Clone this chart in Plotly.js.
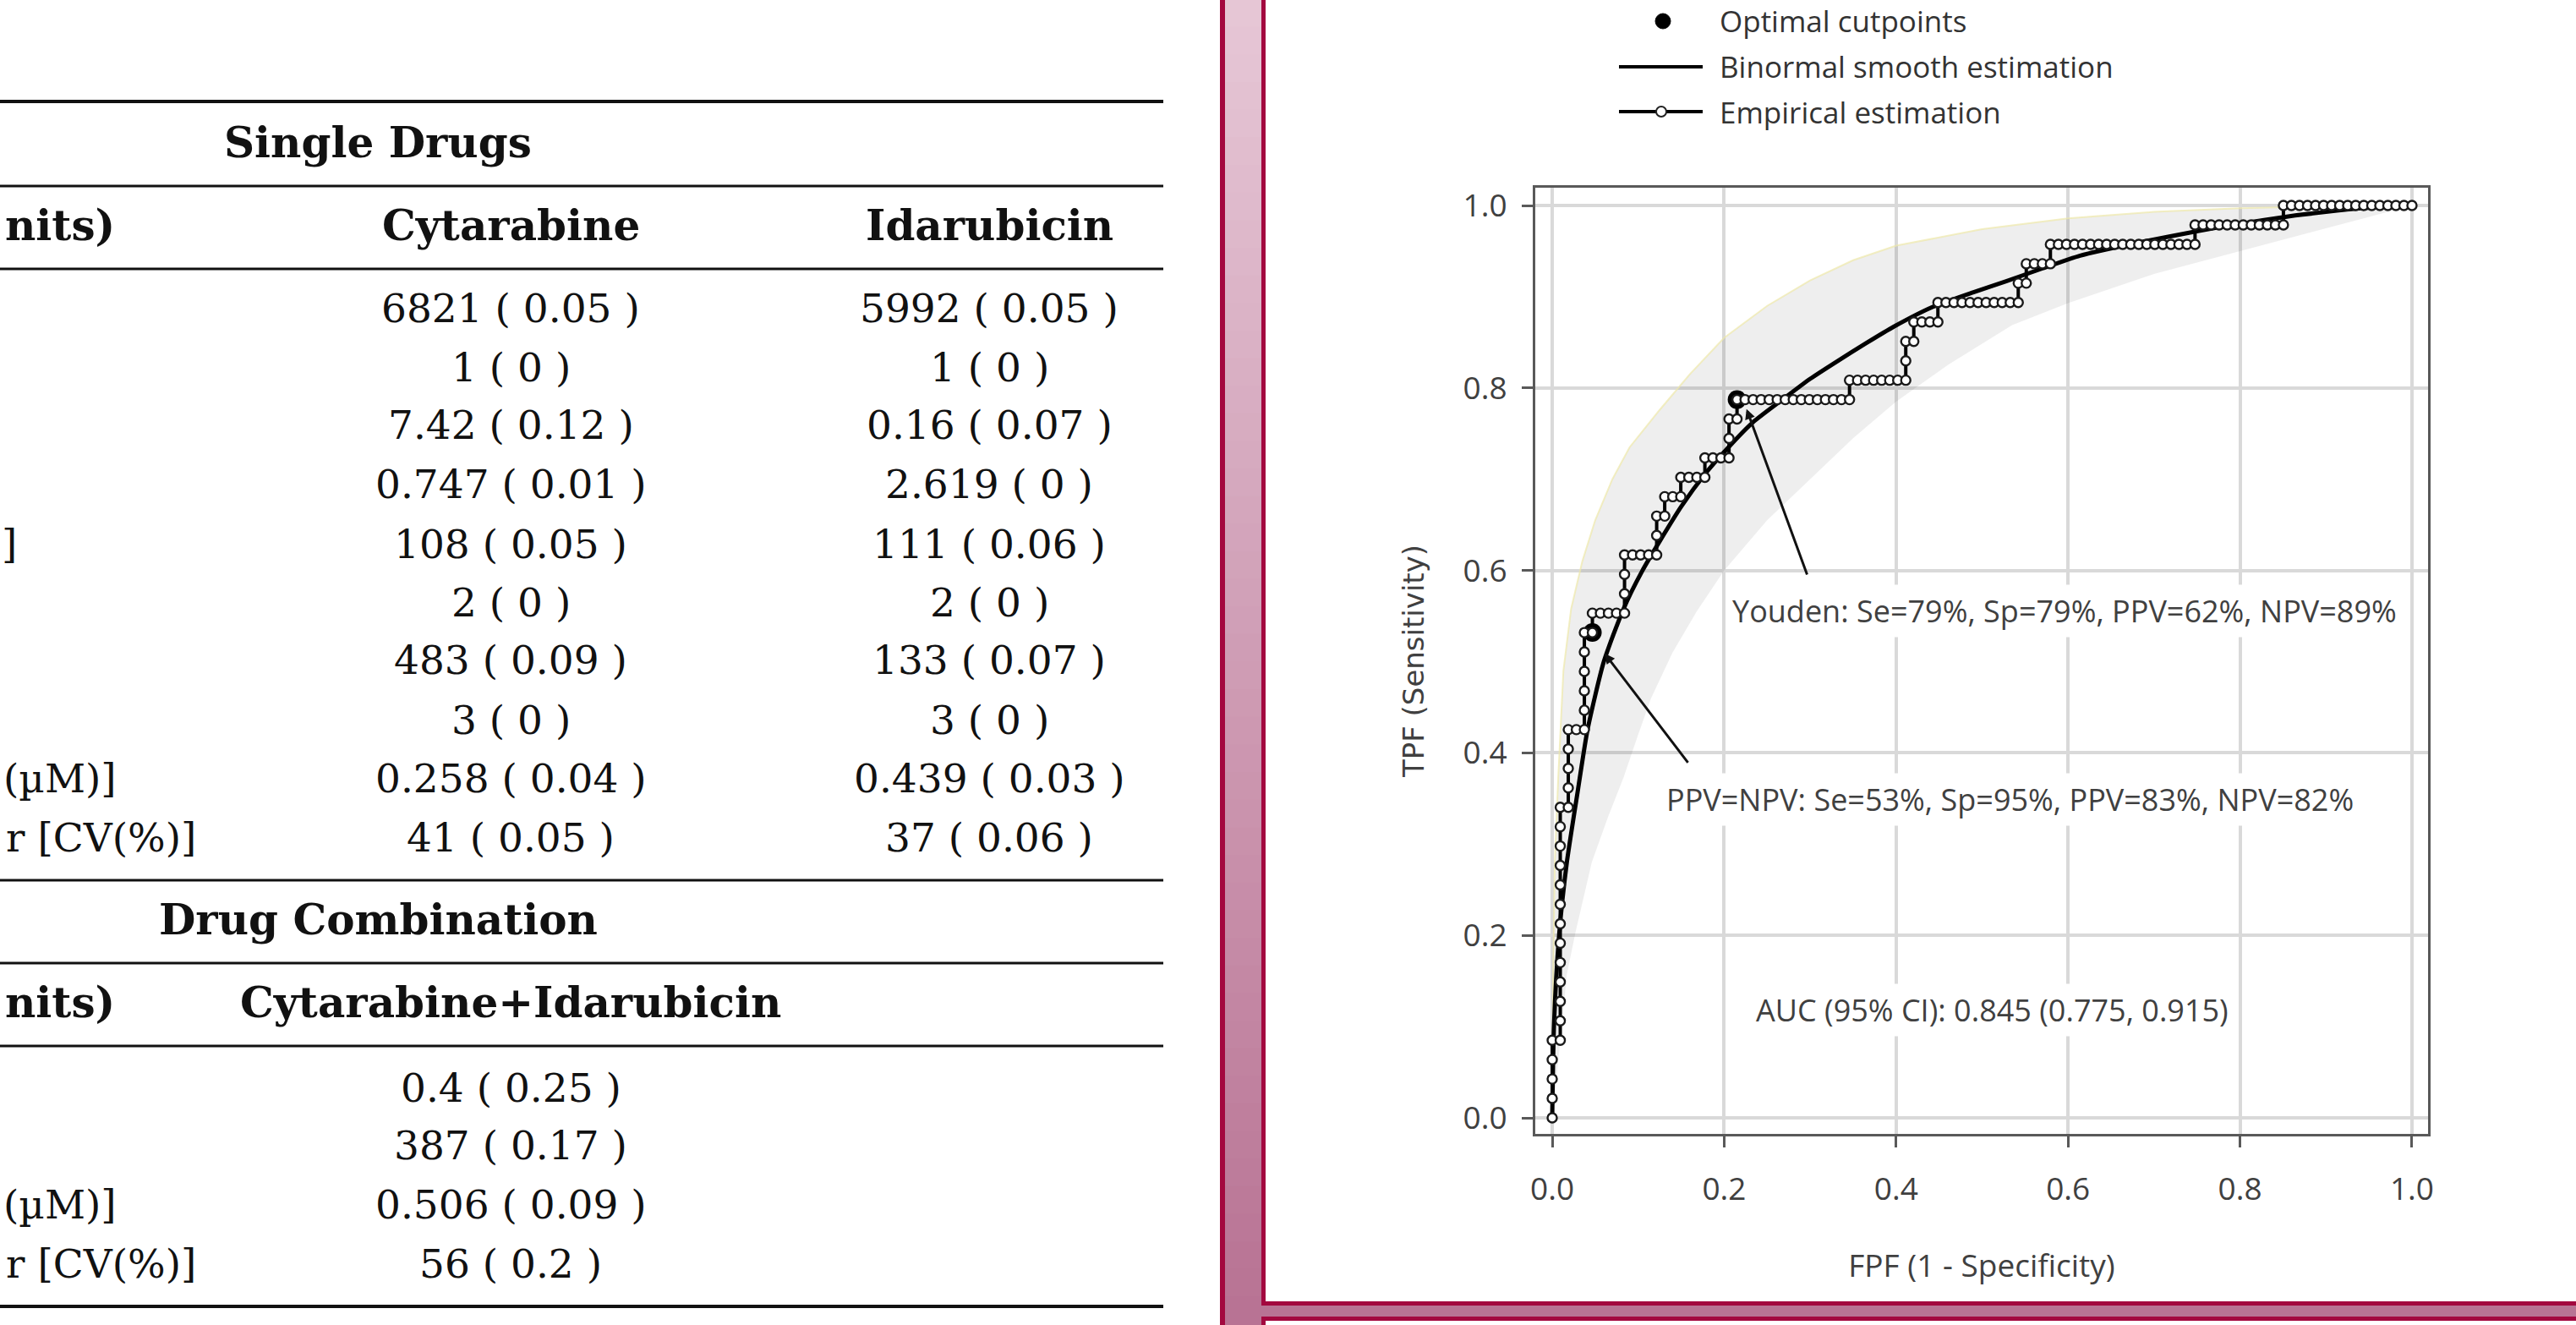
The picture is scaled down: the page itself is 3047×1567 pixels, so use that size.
<!DOCTYPE html>
<html>
<head>
<meta charset="utf-8">
<script src="https://cdn.plot.ly/plotly-3.0.1.min.js"></script>
<style>
html,body{margin:0;padding:0;background:#fff;overflow:hidden;}
#chart{width:3047px;height:1567px;}
</style>
</head>
<body>
<div id="chart"></div>
<script>
// ---------------- DATA ----------------
// Table (left side; the picture is cropped, so only the visible ends of the row labels are kept)
const singleTitle = 'Single Drugs';
const comboTitle = 'Drug Combination';
const paramHeader = 'nits)';
const singleColumns = ['Cytarabine', 'Idarubicin'];
const comboColumns = ['Cytarabine+Idarubicin'];
const cytarabineValues = ['6821 ( 0.05 )', '1 ( 0 )', '7.42 ( 0.12 )', '0.747 ( 0.01 )', '108 ( 0.05 )',
  '2 ( 0 )', '483 ( 0.09 )', '3 ( 0 )', '0.258 ( 0.04 )', '41 ( 0.05 )'];
const idarubicinValues = ['5992 ( 0.05 )', '1 ( 0 )', '0.16 ( 0.07 )', '2.619 ( 0 )', '111 ( 0.06 )',
  '2 ( 0 )', '133 ( 0.07 )', '3 ( 0 )', '0.439 ( 0.03 )', '37 ( 0.06 )'];
const comboValues = ['0.4 ( 0.25 )', '387 ( 0.17 )', '0.506 ( 0.09 )', '56 ( 0.2 )'];
const singleLabelRows = [4, 8, 9];
const singleLabels = [']', '(µM)]', 'r [CV(%)]'];
const comboLabelRows = [2, 3];
const comboLabels = ['(µM)]', 'r [CV(%)]'];

// ROC chart
const nNegatives = 107;
const nPositives = 47;
// empirical ROC: false-positive and true-positive counts at each cutpoint
const empiricalFP = [
  0,0,0,0,0,
  1,1,1,1,1,1,1,1,1,1,1,1,1,
  2,2,2,2,2,
  3,4,4,4,4,4,4,
  5,5,6,7,8,9,
  9,9,9,10,11,12,13,
  13,13,14,14,15,16,
  16,17,18,19,
  19,20,21,22,
  22,22,23,23,
  24,25,26,27,28,29,30,31,32,33,34,35,36,37,
  37,38,39,40,41,42,43,44,
  44,44,45,
  45,46,47,48,
  48,49,50,51,52,53,54,55,56,57,58,
  58,59,
  59,60,61,62,
  62,63,64,65,66,67,68,69,70,71,72,73,74,75,76,77,78,79,80,
  80,81,82,83,84,85,86,87,88,89,90,91,
  91,92,93,94,95,96,97,98,99,100,101,102,103,104,105,106,107];
const empiricalTP = [
  0,1,2,3,4,
  4,5,6,7,8,9,10,11,12,13,14,15,16,
  16,17,18,19,20,
  20,20,21,22,23,24,25,
  25,26,26,26,26,26,
  27,28,29,29,29,29,29,
  30,31,31,32,32,32,
  33,33,33,33,
  34,34,34,34,
  35,36,36,37,
  37,37,37,37,37,37,37,37,37,37,37,37,37,37,
  38,38,38,38,38,38,38,38,
  39,40,40,
  41,41,41,41,
  42,42,42,42,42,42,42,42,42,42,42,
  43,43,
  44,44,44,44,
  45,45,45,45,45,45,45,45,45,45,45,45,45,45,45,45,45,45,45,
  46,46,46,46,46,46,46,46,46,46,46,46,
  47,47,47,47,47,47,47,47,47,47,47,47,47,47,47,47,47];

// binormal smooth estimate
const smoothFPF = [0, 0.002, 0.008, 0.017, 0.03, 0.041, 0.06, 0.083, 0.105, 0.125, 0.15, 0.178, 0.205, 0.233,
  0.266, 0.3, 0.331, 0.365, 0.397, 0.443, 0.49, 0.528, 0.57, 0.614, 0.68, 0.751, 0.8, 0.856, 0.9, 0.955, 1.0];
const smoothTPF = [0, 0.1, 0.2, 0.28, 0.36, 0.425, 0.5, 0.558, 0.6, 0.632, 0.67, 0.706, 0.735, 0.762,
  0.786, 0.81, 0.829, 0.849, 0.867, 0.889, 0.905, 0.917, 0.931, 0.945, 0.959, 0.972, 0.98, 0.988, 0.993, 0.998, 1.0];

// 95% confidence band of the smooth curve
const bandUpperFPF = [0, 0.001, 0.003, 0.007, 0.013, 0.022, 0.035, 0.05, 0.07, 0.09, 0.125, 0.16, 0.2, 0.25,
  0.3, 0.35, 0.4, 0.5, 0.6, 0.7, 0.8, 0.9, 1.0];
const bandUpperTPF = [0, 0.15, 0.28, 0.373, 0.49, 0.558, 0.61, 0.655, 0.70, 0.735, 0.776, 0.815, 0.855, 0.89,
  0.918, 0.94, 0.956, 0.974, 0.986, 0.993, 0.997, 0.999, 1.0];
const bandLowerFPF = [0, 0.01, 0.017, 0.027, 0.046, 0.065, 0.083, 0.1, 0.115, 0.14, 0.168, 0.2, 0.25, 0.3,
  0.35, 0.4, 0.46, 0.535, 0.6, 0.7, 0.8, 0.9, 0.965, 1.0];
const bandLowerTPF = [0, 0.09, 0.157, 0.203, 0.28, 0.33, 0.373, 0.42, 0.46, 0.51, 0.555, 0.6, 0.655, 0.70,
  0.745, 0.785, 0.825, 0.869, 0.893, 0.925, 0.95, 0.975, 0.991, 1.0];

// optimal cutpoints (counts)
const optimalFP = [23, 5];
const optimalTP = [37, 25];
const cutpointLabels = ['Youden: Se=79%, Sp=79%, PPV=62%, NPV=89%', 'PPV=NPV: Se=53%, Sp=95%, PPV=83%, NPV=82%'];
const aucLabel = 'AUC (95% CI): 0.845 (0.775, 0.915)';

const tickValues = [0, 0.2, 0.4, 0.6, 0.8, 1.0];
const tickLabels = ['0.0', '0.2', '0.4', '0.6', '0.8', '1.0'];
const legendLabels = ['Optimal cutpoints', 'Binormal smooth estimation', 'Empirical estimation'];
const xTitle = 'FPF (1 - Specificity)';
const yTitle = 'TPF (Sensitivity)';

// ---------------- LAYOUT HELPERS ----------------
const W = 3047, H = 1567;
const px = x => x / W;
const py = y => 1 - y / H;

const empX = empiricalFP.map(v => v / nNegatives);
const empY = empiricalTP.map(v => v / nPositives);
const optX = optimalFP.map(v => v / nNegatives);
const optY = optimalTP.map(v => v / nPositives);

const shapes = [];
const annotations = [];

// pink gradient frame background
const nBands = 48;
const cTop = [230, 199, 214], cBot = [184, 114, 147];
for (let i = 0; i < nBands; i++) {
  const t = (i + 0.5) / nBands;
  const c = cTop.map((v, k) => Math.round(v + (cBot[k] - v) * t));
  shapes.push({type: 'rect', xref: 'paper', yref: 'paper', layer: 'below',
    x0: px(1449), x1: px(3060), y0: py(i * H / nBands - 1), y1: py((i + 1) * H / nBands + 1),
    fillcolor: `rgb(${c[0]},${c[1]},${c[2]})`, line: {width: 0}});
}
const crimson = '#a3083f';
shapes.push({type: 'rect', xref: 'paper', yref: 'paper', layer: 'below',
  x0: px(1443), x1: px(1449), y0: py(-5), y1: py(H + 5), fillcolor: crimson, line: {width: 0}});
// white panels with crimson borders
shapes.push({type: 'rect', xref: 'paper', yref: 'paper', layer: 'below',
  x0: px(1494.5), x1: px(3070), y0: py(1541.5), y1: py(-30), fillcolor: '#ffffff', line: {color: crimson, width: 5}});
shapes.push({type: 'rect', xref: 'paper', yref: 'paper', layer: 'below',
  x0: px(1494.5), x1: px(3070), y0: py(1600), y1: py(1559.5), fillcolor: '#ffffff', line: {color: crimson, width: 5}});

// table rules
const ruleY = [120, 220, 318, 1041, 1139, 1237, 1545];
const ruleW = [4, 3, 3, 3, 3, 3, 4];
ruleY.forEach((y, i) => shapes.push({type: 'line', xref: 'paper', yref: 'paper', layer: 'below',
  x0: 0, x1: px(1376), y0: py(y), y1: py(y), line: {color: '#111', width: ruleW[i]}}));

// table text
const serif = 'DejaVu Serif, Liberation Serif, serif';
const boldFont = {family: serif, size: 50, color: '#111'};
const regFont = {family: serif, size: 47, color: '#111'};
function tableText(text, x, y, font, anchor) {
  annotations.push({xref: 'paper', yref: 'paper', x: px(x), y: py(y), text: text,
    showarrow: false, xanchor: anchor || 'center', yanchor: 'middle', font: font});
}
tableText('<b>' + singleTitle + '</b>', 447, 168, boldFont);
tableText('<b>' + paramHeader + '</b>', 138, 266, boldFont, 'right');
const colX = [604, 1170];
tableText('<b>' + singleColumns[0] + '</b>', colX[0], 266, boldFont);
tableText('<b>' + singleColumns[1] + '</b>', colX[1], 266, boldFont);
const rowY1 = [364, 434, 503, 573, 643, 712, 781, 851, 920, 990];
cytarabineValues.forEach((v, i) => tableText(v, colX[0], rowY1[i], regFont));
idarubicinValues.forEach((v, i) => tableText(v, colX[1], rowY1[i], regFont));
const singleLabelRight = [22, 140, 234];
singleLabels.forEach((t, i) => tableText(t, singleLabelRight[i], rowY1[singleLabelRows[i]], regFont, 'right'));
tableText('<b>' + comboTitle + '</b>', 447, 1087, boldFont);
tableText('<b>' + paramHeader + '</b>', 138, 1185, boldFont, 'right');
tableText('<b>' + comboColumns[0] + '</b>', colX[0], 1185, boldFont);
const rowY2 = [1286, 1354, 1424, 1494];
comboValues.forEach((v, i) => tableText(v, colX[0], rowY2[i], regFont));
const comboLabelRight = [140, 234];
comboLabels.forEach((t, i) => tableText(t, comboLabelRight[i], rowY2[comboLabelRows[i]], regFont, 'right'));

// manual legend (long line samples like the original)
const sans = 'Open Sans, Noto Sans, sans-serif';
const legY = [25, 79, 132];
shapes.push({type: 'circle', xref: 'paper', yref: 'paper', x0: px(1958), x1: px(1976), y0: py(legY[0] + 9), y1: py(legY[0] - 9),
  fillcolor: '#000', line: {color: '#000', width: 1}});
shapes.push({type: 'line', xref: 'paper', yref: 'paper', x0: px(1915), x1: px(2014), y0: py(legY[1]), y1: py(legY[1]),
  line: {color: '#000', width: 4}});
shapes.push({type: 'line', xref: 'paper', yref: 'paper', x0: px(1915), x1: px(2014), y0: py(legY[2]), y1: py(legY[2]),
  line: {color: '#000', width: 4}});
shapes.push({type: 'circle', xref: 'paper', yref: 'paper', x0: px(1959), x1: px(1971), y0: py(legY[2] + 6), y1: py(legY[2] - 6),
  fillcolor: '#fff', line: {color: '#222', width: 2}});
legendLabels.forEach((t, i) => annotations.push({xref: 'paper', yref: 'paper', x: px(2032), y: py(legY[i]),
  text: t, showarrow: false, xanchor: 'left', yanchor: 'middle', font: {family: sans, size: 35, color: '#333'}}));

// chart annotations
const noteFont = {family: sans, size: 36, color: '#404040'};
annotations.push({xref: 'x', yref: 'y', x: 0.2025, y: 0.556, text: cutpointLabels[0], showarrow: false,
  xanchor: 'left', yanchor: 'middle', font: noteFont, bgcolor: '#ffffff', borderpad: 6});
annotations.push({xref: 'x', yref: 'y', x: 0.1258, y: 0.3494, text: cutpointLabels[1], showarrow: false,
  xanchor: 'left', yanchor: 'middle', font: noteFont, bgcolor: '#ffffff', borderpad: 6});
annotations.push({xref: 'x', yref: 'y', x: 0.230, y: 0.1186, text: aucLabel, showarrow: false,
  xanchor: 'left', yanchor: 'middle', font: noteFont, bgcolor: '#ffffff', borderpad: 6});
// arrows from labels to the optimal cutpoints
annotations.push({xref: 'x', yref: 'y', axref: 'x', ayref: 'y', x: 0.226, y: 0.777, ax: 0.297, ay: 0.594,
  text: '', showarrow: true, arrowhead: 2, arrowsize: 0.8, arrowwidth: 3, arrowcolor: '#111', standoff: 0, startstandoff: 0});
annotations.push({xref: 'x', yref: 'y', axref: 'x', ayref: 'y', x: 0.061, y: 0.509, ax: 0.159, ay: 0.388,
  text: '', showarrow: true, arrowhead: 2, arrowsize: 0.8, arrowwidth: 3, arrowcolor: '#111', standoff: 0, startstandoff: 0});

// ---------------- TRACES ----------------
const bandX = bandUpperFPF.concat(bandLowerFPF.slice().reverse());
const bandY = bandUpperTPF.concat(bandLowerTPF.slice().reverse());
const traces = [
  {type: 'scatter', mode: 'lines', x: bandX, y: bandY, fill: 'toself', fillcolor: 'rgba(0,0,0,0.065)',
    line: {width: 0}, hoverinfo: 'skip', name: '95% CI'},
  {type: 'scatter', mode: 'lines', x: bandUpperFPF, y: bandUpperTPF, line: {color: 'rgba(238,232,170,0.7)', width: 2},
    hoverinfo: 'skip', name: 'CI upper'},
  {type: 'scatter', mode: 'lines', x: smoothFPF, y: smoothTPF, line: {color: '#000', width: 5, shape: 'spline', smoothing: 0.6},
    name: legendLabels[1]},
  {type: 'scatter', mode: 'markers', x: optX, y: optY, marker: {color: '#000', size: 22, line: {width: 0}},
    name: legendLabels[0]},
  {type: 'scatter', mode: 'lines+markers', x: empX, y: empY, line: {color: '#000', width: 4},
    marker: {symbol: 'circle', size: 11, color: '#fff', line: {color: '#1a1a1a', width: 2.4}}, name: legendLabels[2]}
];

const axisCommon = {
  tickvals: tickValues, ticktext: tickLabels, showgrid: true, gridcolor: '#d9d9d9', gridwidth: 4,
  zeroline: false, showline: true, mirror: true, linecolor: '#595959', linewidth: 3,
  ticks: 'outside', ticklen: 13, tickwidth: 3, tickcolor: '#595959',
  tickfont: {family: sans, size: 37, color: '#404040'}, fixedrange: true
};
const layout = {
  width: W, height: H, margin: {l: 0, r: 0, t: 0, b: 0, pad: 0},
  paper_bgcolor: '#ffffff', plot_bgcolor: 'rgba(0,0,0,0)', showlegend: false,
  xaxis: Object.assign({}, axisCommon, {
    domain: [px(1816), px(2872)], range: [-0.0197, 1.0187], ticklabelstandoff: 18,
    title: {text: xTitle, font: {family: sans, size: 37, color: '#404040'}, standoff: 55}
  }),
  yaxis: Object.assign({}, axisCommon, {
    domain: [py(1341), py(222)], range: [-0.0176, 1.0195], ticklabelstandoff: 10,
    title: {text: yTitle, font: {family: 'DejaVu Sans, Verdana, sans-serif', size: 34, color: '#404040'}, standoff: 36}
  }),
  shapes: shapes,
  annotations: annotations
};
Plotly.newPlot('chart', traces, layout, {displayModeBar: false, staticPlot: true});
</script>
</body>
</html>
